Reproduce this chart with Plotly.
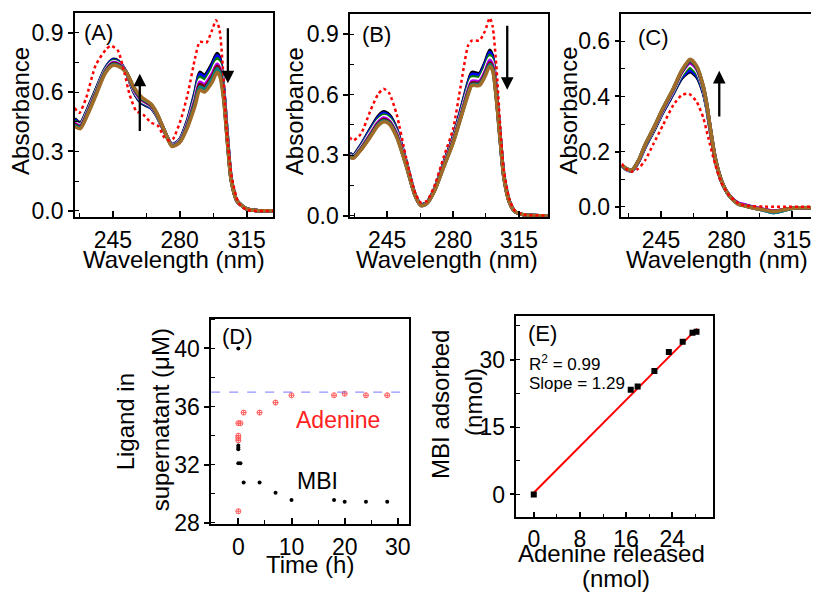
import plotly.graph_objects as go

W, H = 819, 607
FONT = "Arial, Liberation Sans, sans-serif"
PAGE_OFFSET = 8  # default page margin of the html body (px)

# ---------------- DATA ----------------
# Panel A spectra
wl_A = [225, 228, 232, 236, 241, 245, 248, 252, 256, 260, 265, 268, 272, 276, 280, 284, 288, 290.5, 293, 297, 299.5, 301, 303, 305, 307, 310, 315, 320, 329]
A_curves = [
    [0.465, 0.445, 0.52, 0.61, 0.72, 0.765, 0.755, 0.70, 0.60, 0.545, 0.52, 0.48, 0.40, 0.335, 0.36, 0.455, 0.60, 0.70, 0.685, 0.745, 0.795, 0.77, 0.62, 0.37, 0.16, 0.05, 0.01, 0.002, 0.0],
    [0.46, 0.44, 0.515, 0.605, 0.717, 0.762, 0.752, 0.70, 0.603, 0.549, 0.522, 0.482, 0.401, 0.334, 0.358, 0.451, 0.592, 0.69, 0.675, 0.734, 0.783, 0.759, 0.613, 0.366, 0.159, 0.05, 0.01, 0.002, 0.0],
    [0.454, 0.437, 0.512, 0.602, 0.713, 0.757, 0.748, 0.70, 0.607, 0.553, 0.526, 0.484, 0.402, 0.332, 0.356, 0.445, 0.58, 0.675, 0.661, 0.718, 0.768, 0.745, 0.603, 0.362, 0.157, 0.05, 0.01, 0.002, 0.0],
    [0.448, 0.433, 0.507, 0.597, 0.709, 0.752, 0.745, 0.70, 0.61, 0.557, 0.528, 0.486, 0.403, 0.331, 0.354, 0.44, 0.57, 0.662, 0.649, 0.705, 0.753, 0.731, 0.595, 0.359, 0.156, 0.05, 0.01, 0.002, 0.0],
    [0.443, 0.43, 0.503, 0.593, 0.706, 0.748, 0.742, 0.70, 0.614, 0.561, 0.531, 0.488, 0.403, 0.330, 0.352, 0.436, 0.561, 0.65, 0.638, 0.693, 0.741, 0.72, 0.587, 0.356, 0.155, 0.05, 0.01, 0.002, 0.0],
    [0.438, 0.425, 0.5, 0.59, 0.703, 0.745, 0.738, 0.70, 0.617, 0.565, 0.534, 0.49, 0.404, 0.328, 0.35, 0.431, 0.552, 0.639, 0.627, 0.68, 0.73, 0.709, 0.579, 0.35, 0.153, 0.05, 0.01, 0.002, 0.0],
    [0.432, 0.42, 0.495, 0.586, 0.7, 0.74, 0.734, 0.70, 0.621, 0.569, 0.537, 0.492, 0.405, 0.327, 0.348, 0.426, 0.543, 0.626, 0.615, 0.668, 0.718, 0.697, 0.571, 0.345, 0.152, 0.05, 0.01, 0.002, 0.0],
    [0.425, 0.415, 0.49, 0.58, 0.695, 0.735, 0.73, 0.70, 0.625, 0.575, 0.54, 0.495, 0.405, 0.325, 0.345, 0.42, 0.53, 0.61, 0.60, 0.65, 0.70, 0.68, 0.56, 0.34, 0.15, 0.05, 0.01, 0.002, 0.0],
]
wl_A_red = [225, 227.5, 231, 236, 241.5, 244, 247.6, 251, 253.8, 257.3, 260.8, 265, 268.6, 272, 274.75, 276.5, 280.9, 284.4, 288, 290.5, 294, 296.75, 299, 300.8, 302.5, 304.6, 307.2, 310.8, 315, 329]
A_red = [0.52, 0.495, 0.57, 0.735, 0.817, 0.834, 0.81, 0.70, 0.586, 0.504, 0.487, 0.446, 0.43, 0.37, 0.355, 0.363, 0.47, 0.60, 0.77, 0.854, 0.85, 0.908, 0.963, 0.917, 0.735, 0.405, 0.173, 0.04, 0.005, 0.0]

# Panel B spectra
wl_B = [225, 227, 231, 236, 240, 243, 246, 250, 255, 260, 263, 266, 270, 275, 280, 284, 288, 290, 294, 297, 299.5, 301, 303, 305, 307, 310, 313, 318, 330.5]
B_curves = [
    [0.31, 0.30, 0.35, 0.43, 0.49, 0.515, 0.50, 0.43, 0.27, 0.10, 0.055, 0.065, 0.13, 0.26, 0.39, 0.52, 0.66, 0.71, 0.705, 0.76, 0.82, 0.79, 0.62, 0.40, 0.20, 0.07, 0.02, 0.004, 0.0],
    [0.307, 0.297, 0.346, 0.424, 0.483, 0.508, 0.493, 0.424, 0.267, 0.099, 0.054, 0.064, 0.128, 0.257, 0.386, 0.514, 0.651, 0.70, 0.697, 0.75, 0.809, 0.78, 0.614, 0.397, 0.199, 0.07, 0.02, 0.004, 0.0],
    [0.303, 0.294, 0.341, 0.417, 0.475, 0.499, 0.485, 0.417, 0.263, 0.098, 0.053, 0.063, 0.127, 0.254, 0.38, 0.506, 0.64, 0.688, 0.685, 0.737, 0.795, 0.768, 0.606, 0.393, 0.197, 0.069, 0.02, 0.004, 0.0],
    [0.30, 0.292, 0.337, 0.411, 0.468, 0.491, 0.478, 0.411, 0.26, 0.097, 0.052, 0.062, 0.125, 0.251, 0.375, 0.499, 0.63, 0.677, 0.675, 0.725, 0.782, 0.757, 0.599, 0.39, 0.195, 0.068, 0.02, 0.004, 0.0],
    [0.297, 0.29, 0.333, 0.404, 0.461, 0.484, 0.471, 0.405, 0.257, 0.097, 0.052, 0.062, 0.124, 0.248, 0.371, 0.493, 0.621, 0.667, 0.665, 0.713, 0.77, 0.747, 0.593, 0.387, 0.194, 0.067, 0.02, 0.004, 0.0],
    [0.295, 0.288, 0.331, 0.399, 0.455, 0.477, 0.465, 0.399, 0.254, 0.096, 0.051, 0.061, 0.123, 0.245, 0.367, 0.488, 0.613, 0.658, 0.657, 0.704, 0.758, 0.737, 0.588, 0.385, 0.193, 0.066, 0.02, 0.004, 0.0],
    [0.292, 0.287, 0.328, 0.394, 0.45, 0.471, 0.46, 0.394, 0.252, 0.096, 0.051, 0.061, 0.122, 0.243, 0.363, 0.484, 0.606, 0.651, 0.651, 0.697, 0.749, 0.728, 0.584, 0.382, 0.191, 0.066, 0.02, 0.004, 0.0],
    [0.29, 0.285, 0.325, 0.39, 0.445, 0.465, 0.455, 0.39, 0.25, 0.095, 0.05, 0.06, 0.12, 0.24, 0.36, 0.48, 0.60, 0.645, 0.645, 0.69, 0.74, 0.72, 0.58, 0.38, 0.19, 0.065, 0.02, 0.004, 0.0],
]
B_red = [0.389, 0.373, 0.405, 0.519, 0.60, 0.629, 0.608, 0.503, 0.29, 0.11, 0.065, 0.073, 0.146, 0.29, 0.43, 0.64, 0.843, 0.868, 0.868, 0.915, 0.98, 0.94, 0.746, 0.454, 0.227, 0.081, 0.024, 0.005, 0.0]

# Panel C spectra
wl_C = [224, 226.5, 229.5, 233, 236.5, 241, 246, 251.5, 256, 260.5, 264, 267.5, 269.5, 271, 274, 277.5, 282, 286, 290, 295, 300, 305, 310, 315, 320, 330]
C_curves = [
    [0.148, 0.135, 0.13, 0.163, 0.216, 0.274, 0.343, 0.41, 0.466, 0.49, 0.472, 0.415, 0.355, 0.29, 0.17, 0.088, 0.035, 0.012, 0.004, -0.004, -0.012, -0.02, -0.014, -0.006, -0.004, -0.004],
    [0.149, 0.135, 0.13, 0.164, 0.218, 0.276, 0.345, 0.413, 0.47, 0.495, 0.477, 0.419, 0.358, 0.292, 0.171, 0.088, 0.035, 0.012, 0.004, -0.005, -0.013, -0.021, -0.014, -0.006, -0.004, -0.004],
    [0.149, 0.136, 0.131, 0.165, 0.22, 0.278, 0.348, 0.417, 0.476, 0.505, 0.485, 0.424, 0.36, 0.294, 0.172, 0.089, 0.035, 0.011, 0.003, -0.005, -0.012, -0.019, -0.013, -0.006, -0.004, -0.004],
    [0.15, 0.136, 0.131, 0.166, 0.221, 0.28, 0.35, 0.42, 0.482, 0.514, 0.493, 0.429, 0.363, 0.296, 0.173, 0.089, 0.035, 0.011, 0.003, -0.005, -0.012, -0.019, -0.013, -0.006, -0.004, -0.004],
    [0.15, 0.137, 0.132, 0.166, 0.222, 0.282, 0.352, 0.423, 0.487, 0.522, 0.5, 0.433, 0.366, 0.297, 0.174, 0.09, 0.036, 0.014, 0.006, -0.003, -0.01, -0.016, -0.012, -0.006, -0.004, -0.004],
    [0.151, 0.137, 0.132, 0.167, 0.223, 0.283, 0.354, 0.425, 0.49, 0.528, 0.505, 0.436, 0.368, 0.298, 0.174, 0.09, 0.035, 0.011, 0.003, -0.005, -0.011, -0.017, -0.012, -0.006, -0.004, -0.004],
    [0.151, 0.138, 0.133, 0.168, 0.224, 0.284, 0.356, 0.427, 0.492, 0.532, 0.508, 0.438, 0.369, 0.299, 0.175, 0.09, 0.035, 0.01, 0.002, -0.006, -0.013, -0.022, -0.015, -0.007, -0.004, -0.004],
    [0.152, 0.138, 0.133, 0.168, 0.225, 0.285, 0.357, 0.428, 0.494, 0.535, 0.511, 0.44, 0.37, 0.30, 0.175, 0.09, 0.035, 0.01, 0.002, -0.006, -0.012, -0.018, -0.012, -0.006, -0.004, -0.004],
]
wl_C_red = [224, 226.2, 229.4, 232.9, 236.5, 240.9, 246.2, 251.6, 256, 259.9, 264, 267.6, 270.2, 273.8, 277.3, 281.8, 286.2, 290, 300, 330]
C_red = [0.156, 0.138, 0.127, 0.138, 0.168, 0.227, 0.298, 0.369, 0.405, 0.41, 0.381, 0.322, 0.251, 0.156, 0.085, 0.038, 0.012, 0.004, 0.0, 0.0]

# Panel D kinetics
adenine_t = [0, 0, 0, 0, 0, 0.4, 1, 4, 7, 10, 18, 20, 24, 28]
adenine_c = [28.8, 33.68, 33.85, 34.0, 34.86, 34.86, 35.59, 35.59, 36.28, 36.78, 36.78, 36.89, 36.78, 36.78]
mbi_t = [0, 0, 0, 0, 0, 0.4, 1, 4, 7, 10, 18, 20, 24, 28]
mbi_c = [40.0, 33.33, 33.18, 33.07, 32.1, 32.1, 30.77, 30.77, 30.07, 29.57, 29.57, 29.46, 29.46, 29.46]
initial_level = 37.0

# Panel E correlation
adenine_released = [0, 16.8, 18.0, 20.9, 23.4, 25.8, 27.5, 28.2]
mbi_adsorbed = [0, 23.3, 24.0, 27.5, 31.7, 34.0, 36.0, 36.2]
fit_slope = 1.29
fit_intercept = 0.4
fit_x = [0, 28.3]
r2_text = "R<sup>2</sup> = 0.99"
slope_text = "Slope = 1.29"

curve_colors = ["#000000", "#0000ff", "#008000", "#ffffff", "#b000ff", "#800000", "#008080", "#a06c28"]

# ---------------- FIGURE ----------------
def px(x):
    return (x - PAGE_OFFSET) / W

def py(y):
    return 1 - (y - PAGE_OFFSET) / H

fig = go.Figure()

def add_spectra(wl, curves, wl_red, red, xa, ya):
    for c, col in zip(curves, curve_colors):
        fig.add_trace(go.Scatter(x=wl, y=c, mode="lines", xaxis=xa, yaxis=ya,
                                 line=dict(color=col, width=3.5, shape="spline", smoothing=0.7),
                                 showlegend=False, hoverinfo="skip"))
    fig.add_trace(go.Scatter(x=wl_red, y=red, mode="lines", xaxis=xa, yaxis=ya,
                             line=dict(color="#ff0000", width=2.5, dash="dot", shape="spline", smoothing=0.6),
                             showlegend=False, hoverinfo="skip"))

add_spectra(wl_A, A_curves, wl_A_red, A_red, "x", "y")
add_spectra(wl_B, B_curves, wl_B, B_red, "x2", "y2")
add_spectra(wl_C, C_curves, wl_C_red, C_red, "x3", "y3")

fig.add_trace(go.Scatter(x=adenine_t, y=adenine_c, mode="markers", xaxis="x4", yaxis="y4",
                         marker=dict(symbol="circle-cross-open", size=5, color="#ff5a5a", line=dict(width=1)),
                         showlegend=False))
fig.add_trace(go.Scatter(x=mbi_t, y=mbi_c, mode="markers", xaxis="x4", yaxis="y4",
                         marker=dict(symbol="circle", size=4, color="black"),
                         showlegend=False))

fit_y = [fit_slope * v + fit_intercept for v in fit_x]
fig.add_trace(go.Scatter(x=fit_x, y=fit_y, mode="lines", xaxis="x5", yaxis="y5",
                         line=dict(color="#ff0000", width=2), showlegend=False))
fig.add_trace(go.Scatter(x=adenine_released, y=mbi_adsorbed, mode="markers", xaxis="x5", yaxis="y5",
                         marker=dict(symbol="square", size=6, color="black"), showlegend=False))

tickfont = dict(size=23, color="black", family=FONT)

def xax(dom, rng, tickvals, minor_dtick, anchor, standoff=2):
    return dict(domain=dom, range=rng, anchor=anchor, showline=True, linecolor="black", linewidth=1.5,
                mirror=True, showgrid=False, zeroline=False, tickmode="array", tickvals=tickvals,
                ticks="inside", ticklen=6, tickwidth=1.5, tickcolor="black", tickfont=tickfont,
                ticklabelstandoff=standoff, ticklabeloverflow="allow",
                minor=dict(dtick=minor_dtick, tick0=tickvals[0], ticks="inside", ticklen=4, tickwidth=1.2, tickcolor="black", showgrid=False))

def yax(dom, rng, tickvals, ticktext, minor_dtick, anchor):
    return dict(domain=dom, range=rng, anchor=anchor, showline=True, linecolor="black", linewidth=1.5,
                mirror=True, showgrid=False, zeroline=False, tickmode="array", tickvals=tickvals, ticktext=ticktext,
                ticks="outside", ticklen=5, tickwidth=1.5, tickcolor="black", tickfont=tickfont,
                ticklabelstandoff=0,
                minor=dict(dtick=minor_dtick, tick0=tickvals[0], ticks="inside", ticklen=4, tickwidth=1.2, tickcolor="black", showgrid=False))

wl_ticks = [245, 280, 315]
abs_ticks = [0.0, 0.3, 0.6, 0.9]
abs_text = ["0.0", "0.3", "0.6", "0.9"]
c_ticks = [0.0, 0.2, 0.4, 0.6]
c_text = ["0.0", "0.2", "0.4", "0.6"]

fig.update_layout(
    width=W, height=H, margin=dict(l=0, r=0, t=0, b=0),
    paper_bgcolor="white", plot_bgcolor="white", showlegend=False,
    font=dict(family=FONT, color="black"),
    xaxis=xax([px(75), px(274)], [225.1, 329], wl_ticks, 17.5, "y"),
    yaxis=yax([py(221), py(13)], [-0.03, 1.0], abs_ticks, abs_text, 0.15, "x"),
    xaxis2=xax([px(351), px(549)], [225.3, 330.3], wl_ticks, 17.5, "y2"),
    yaxis2=yax([py(221), py(14)], [-0.005, 1.0], abs_ticks, abs_text, 0.15, "x2"),
    xaxis3=xax([px(623), px(822)], [223.9, 329.9], wl_ticks, 17.5, "y3"),
    yaxis3=yax([py(221), py(14)], [-0.037, 0.7], c_ticks, c_text, 0.1, "x3"),
    xaxis4=xax([px(211.7), px(410)], [-5.1, 32.1], [0, 10, 20, 30], 5, "y4"),
    yaxis4=yax([py(534), py(325.7)], [27.95, 42.0], [28, 32, 36, 40], ["28", "32", "36", "40"], 2, "x4"),
    xaxis5=xax([px(517.7), px(715)], [-3.0, 31.1], [0, 8, 16, 24], 4, "y5", standoff=0),
    yaxis5=yax([py(527.7), py(322.7)], [-5.1, 39.6], [0, 15, 30], ["0", "15", "30"], 7.5, "x5"),
)

fig.add_shape(type="line", xref="x4 domain", x0=0, x1=1, yref="y4", y0=initial_level, y1=initial_level,
              line=dict(color="rgba(110,110,255,0.75)", width=1.2, dash="dash"))

def txt(x, y, text, size=24, angle=0, color="black", xanchor="center"):
    fig.add_annotation(x=px(x), y=py(y), xref="paper", yref="paper", text=text, showarrow=False,
                       textangle=angle, xanchor=xanchor, yanchor="middle",
                       font=dict(size=size, color=color, family=FONT))

ROT = -2  # small compensation for rotated annotation placement
# axis titles
txt(23 + ROT, 113, "Absorbance", angle=-90)
txt(298 + ROT, 113, "Absorbance", angle=-90)
txt(572 + ROT, 113, "Absorbance", angle=-90)
txt(174, 265, "Wavelength (nm)")
txt(448, 265, "Wavelength (nm)")
txt(719, 265, "Wavelength (nm)")
txt(128 + ROT, 430, "Ligand in", angle=-90)
txt(163 + ROT, 428, "supernatant (μM)", angle=-90)
txt(311, 576, "Time (h)")
txt(443 + ROT, 412, "MBI adsorbed", angle=-90)
txt(476 + ROT, 410, "(nmol)", angle=-90)
txt(613, 564, "Adenine released")
txt(617, 590, "(nmol)")

# panel labels
txt(82, 33, "(A)", size=22, xanchor="left")
txt(361, 35, "(B)", size=22, xanchor="left")
txt(638, 38, "(C)", size=22, xanchor="left")
txt(221, 343, "(D)", size=22, xanchor="left")
txt(527, 340, "(E)", size=22, xanchor="left")

# in-plot labels
txt(339, 428, "Adenine", size=23, color="#ff2020")
txt(318, 491, "MBI", size=23)
txt(528, 370, r2_text, size=17, xanchor="left")
txt(528, 391, slope_text, size=17, xanchor="left")

# arrows
def arrow(xr, yr, x, y0, y1):
    fig.add_annotation(x=x, y=y1, ax=x, ay=y0, xref=xr, yref=yr, axref=xr, ayref=yr, text="",
                       showarrow=True, arrowhead=2, arrowsize=1.1, arrowwidth=2.3, arrowcolor="black")

arrow("x", "y", 259.1, 0.396, 0.693)
arrow("x", "y", 305.2, 0.93, 0.644)
arrow("x2", "y2", 308.8, 0.949, 0.624)
arrow("x3", "y3", 276.1, 0.322, 0.493)

fig.write_html("out.html")
